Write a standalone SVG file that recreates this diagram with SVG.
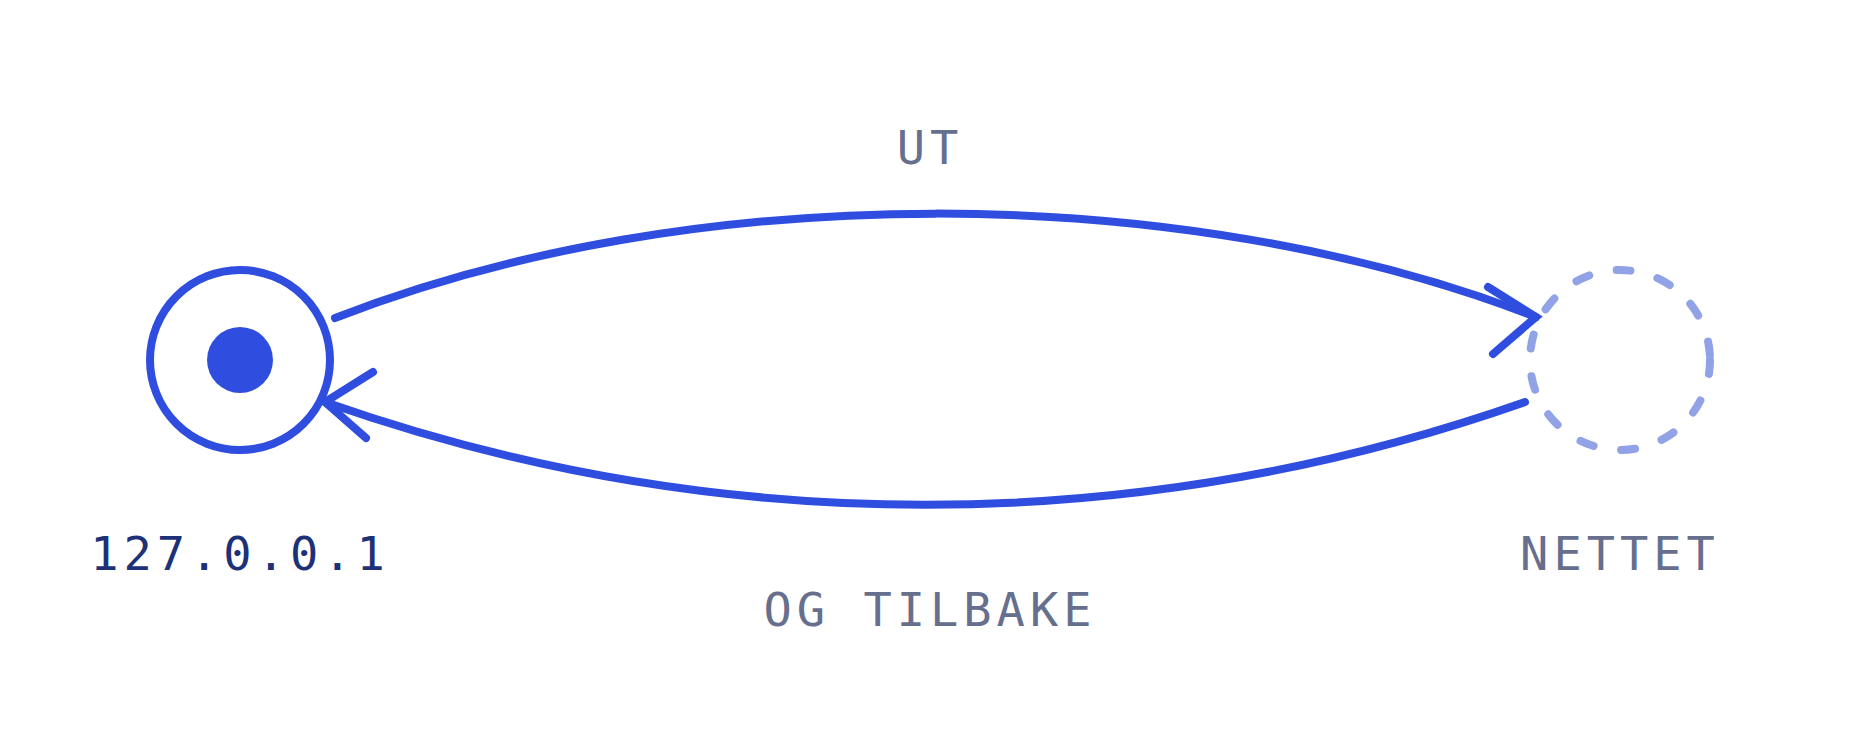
<svg xmlns="http://www.w3.org/2000/svg" width="1860" height="750" viewBox="0 0 1860 750">
  <style>
    .lbl { font-family: "DejaVu Sans Mono", "Liberation Mono", monospace; font-size: 47px; letter-spacing: 5px; text-anchor: middle; }
    .muted { fill: #676f8e; }
    .ip { fill: #1d3179; }
    .conn { fill: none; stroke: #2f4ddf; stroke-width: 8; stroke-linecap: round; }
    .head { fill: none; stroke: #2f4ddf; stroke-width: 8; stroke-linecap: round; stroke-linejoin: miter; }
  </style>
  <rect width="1860" height="750" fill="#ffffff"/>

  <g id="connectors">
    <g id="edge-ut">
      <path class="conn" d="M335,318 C690,179 1181,179 1536,317"/>
      <path class="head" d="M1488,287 L1536,317 L1493,354"/>
      <text class="lbl muted" x="930" y="164">UT</text>
    </g>
    <g id="edge-tilbake">
      <path class="conn" d="M1525,402 C1135,539 715,539 325,402"/>
      <path class="head" d="M373,372 L325,402 L366,438"/>
      <text class="lbl muted" x="930" y="626">OG TILBAKE</text>
    </g>
  </g>

  <g id="node-localhost">
    <circle cx="240" cy="360" r="90" fill="none" stroke="#2f4ddf" stroke-width="8"/>
    <circle cx="240" cy="360" r="33" fill="#2f4ddf"/>
    <text class="lbl ip" x="240" y="570">127.0.0.1</text>
  </g>

  <g id="node-nettet">
    <circle cx="1620" cy="360" r="90" fill="none" stroke="#91a2e6" stroke-width="8" stroke-linecap="round" stroke-dasharray="14 28"/>
    <text class="lbl muted" x="1620" y="570">NETTET</text>
  </g>
</svg>
